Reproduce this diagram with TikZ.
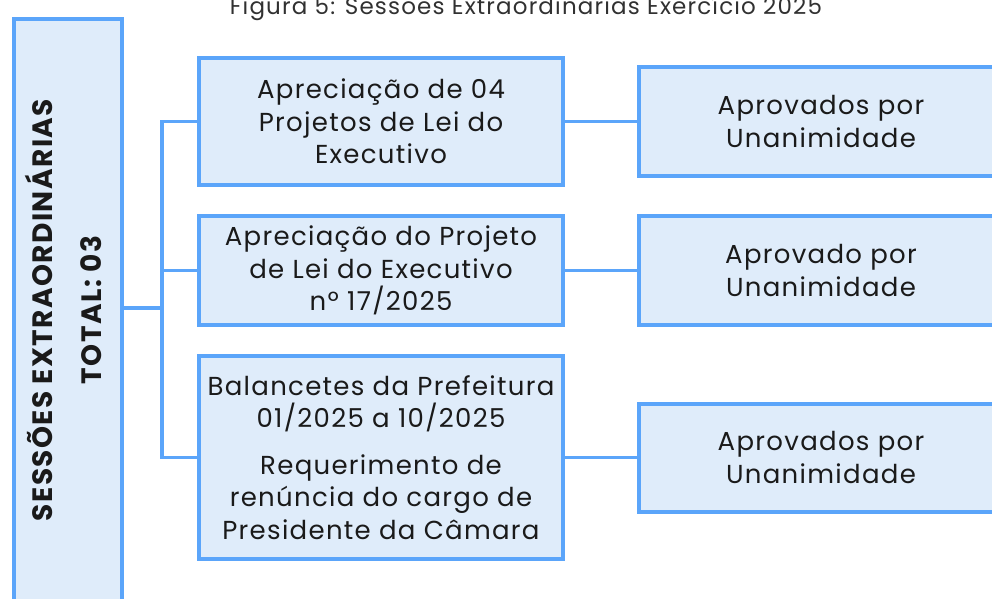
\documentclass[tikz,border=0pt]{standalone}
\usepackage{fontspec}
\setmainfont{Poppins}[LetterSpace=5]
\usetikzlibrary{positioning}
\definecolor{boxline}{RGB}{91,165,250}
\definecolor{boxfill}{RGB}{223,236,250}
\definecolor{boxtext}{RGB}{26,26,26}

\begin{document}
\begin{tikzpicture}[x=1pt,y=-1pt,line width=4pt,font=\fontsize{26}{32.5}\selectfont]
	
	\tikzset{node box/.style={rectangle, draw=boxline,
			fill=boxfill, text=boxtext, align=center,
			minimum width=364pt, inner sep=0pt}}
	\tikzset{node link/.style={draw=boxline, line width=3.5pt, line cap=rect}}
	
	\useasboundingbox (0,0) rectangle (992,598);
	
	\node[text=boxtext!90, anchor=base, font=\fontsize{23}{26}\selectfont] (T) at (526,14) {Figura 5: Sessões Extraordinárias Exercício 2025};
	
	\node[node box, rotate=90, minimum width=582pt, minimum height=108pt,
		font=\bfseries\fontsize{28}{49}\selectfont] (S) at (68,310)
		{\raisebox{-5pt}[0pt][0pt]{\begin{tabular}{@{}c@{}}SESSÕES EXTRAORDINÁRIAS\\TOTAL: 03\end{tabular}}};
	
	\node[node box, minimum height=127pt] (B1) at (381,121.5) {Apreciação de 04\\Projetos de Lei do\\Executivo};
	\node[node box, minimum height=109pt, below=27pt of B1] (B2) {Apreciação do Projeto\\de Lei do Executivo\\nº 17/2025};
	\node[node box, minimum height=203pt, below=27pt of B2] (B3) {Balancetes da Prefeitura\\01/2025 a 10/2025\\[14pt]Requerimento de\\renúncia do cargo de\\Presidente da Câmara};
	
	\node[node box, minimum height=109pt, right=72pt of B1] (R1) {Aprovados por\\Unanimidade};
	\node[node box, minimum height=109pt, right=72pt of B2] (R2) {Aprovado por\\Unanimidade};
	\node[node box, minimum height=108pt, right=72pt of B3] (R3) {Aprovados por\\Unanimidade};
	
	\coordinate (J) at (162,308);
	
	\draw[node link] (J -| S.south) -- (J);
	\draw[node link] (J |- B1.west) -- (J |- B3.west);
	\foreach \b in {B1, B2, B3} {
		\draw[node link] (J |- \b.west) -- (\b.west);
	};
	\foreach \b/\r in {B1/R1, B2/R2, B3/R3} {
		\draw[node link] (\b.east) -- (\b.east -| \r.west);
	};
	
\end{tikzpicture}
\end{document}
